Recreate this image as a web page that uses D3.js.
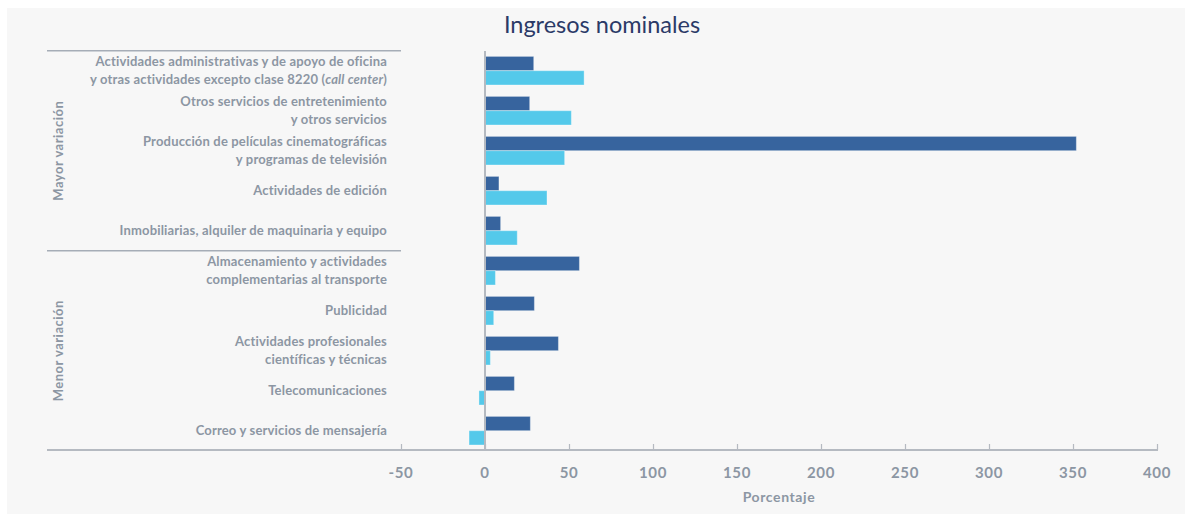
<!DOCTYPE html>
<html>
<head>
<meta charset="utf-8">
<script src="https://cdn.jsdelivr.net/npm/d3@7"></script>
<style>
  html, body { margin: 0; padding: 0; background: #ffffff; }
  svg { display: block; }
  text { font-family: Lato, "Open Sans", sans-serif; }
</style>
</head>
<body>
<svg id="chart" width="1185" height="514"></svg>
<script>
// ---- data ----
const categories = [
  ["Actividades administrativas y de apoyo de oficina", "y otras actividades excepto clase 8220 (|call center|)"],
  ["Otros servicios de entretenimiento", "y otros servicios"],
  ["Producción de películas cinematográficas", "y programas de televisión"],
  ["Actividades de edición"],
  ["Inmobiliarias, alquiler de maquinaria y equipo"],
  ["Almacenamiento y actividades", "complementarias al transporte"],
  ["Publicidad"],
  ["Actividades profesionales", "científicas y técnicas"],
  ["Telecomunicaciones"],
  ["Correo y servicios de mensajería"]
];
const seriesDark  = [29, 26.6, 352, 8.3, 9.3, 56.2, 29.4, 43.7, 17.5, 27];
const seriesLight = [59, 51.4, 47.4, 36.9, 19.2, 6.2, 5.2, 3.2, -3.6, -9.5];
const groups = [
  { name: "Mayor variación", from: 0, to: 4 },
  { name: "Menor variación", from: 5, to: 9 }
];
const xTicks = [-50, 0, 50, 100, 150, 200, 250, 300, 350, 400];
const title = "Ingresos nominales";
const xTitle = "Porcentaje";

// ---- layout ----
const svg = d3.select("#chart");
const W = 1185, H = 514;
svg.append("rect").attr("x", 7).attr("y", 8).attr("width", W - 7).attr("height", H - 8).attr("fill", "#f7f7f7");

const x = d3.scaleLinear().domain([-50, 400]).range([401, 1157]);
const y = d3.scaleBand().domain(d3.range(categories.length)).range([50.7, 450.7]).paddingInner(0.285).paddingOuter(0.1425);
const grey = "#8c96a3";
const lineGrey = "#b5bac1";

// title
svg.append("text").attr("x", 602).attr("y", 33).attr("text-anchor", "middle")
  .attr("font-size", 23.5).attr("fill", "#2b3a67").attr("font-weight", 400).text(title);

// group separators
const sepY = [y.range()[0], (y(4) + y.bandwidth() + y(5)) / 2];
svg.selectAll("line.sep").data(sepY).join("line")
  .attr("x1", 47).attr("x2", x(-50)).attr("y1", d => d).attr("y2", d => d)
  .attr("stroke", "#a6adb7").attr("stroke-width", 1.5);

// group labels
groups.forEach(g => {
  const cy = (y(g.from) + y(g.to) + y.bandwidth()) / 2;
  svg.append("text").attr("transform", `translate(63,${cy}) rotate(-90)`)
    .attr("text-anchor", "middle").attr("font-size", 13).attr("font-weight", 700)
    .attr("letter-spacing", 0.5).attr("fill", grey).text(g.name);
});

// category labels
const bh = y.bandwidth() / 2;
categories.forEach((lines, i) => {
  const cy = y(i) + bh;
  const t = svg.append("text").attr("text-anchor", "end").attr("font-size", 13)
    .attr("font-weight", 700).attr("letter-spacing", 0.17).attr("fill", grey);
  const n = lines.length;
  lines.forEach((ln, j) => {
    const yy = cy + (j - (n - 1) / 2) * 17.5 + 4.5;
    const parts = ln.split("|");
    t.append("tspan").attr("x", 387).attr("y", yy).text(parts[0]);
    for (let k = 1; k < parts.length; k++) {
      t.append("tspan").attr("font-style", k % 2 === 1 ? "italic" : "normal").text(parts[k]);
    }
  });
});

// bars
const bars = svg.append("g");
bars.selectAll("rect.dark").data(seriesDark).join("rect")
  .attr("x", d => x(Math.min(0, d))).attr("width", d => Math.abs(x(d) - x(0)))
  .attr("y", (d, i) => y(i)).attr("height", bh)
  .attr("fill", "#37649e").attr("stroke", "rgba(255,255,255,0.35)").attr("stroke-width", 1);
bars.selectAll("rect.light").data(seriesLight).join("rect")
  .attr("x", d => x(Math.min(0, d))).attr("width", d => Math.abs(x(d) - x(0)))
  .attr("y", (d, i) => y(i) + bh).attr("height", bh)
  .attr("fill", "#54c9ea").attr("stroke", "rgba(255,255,255,0.35)").attr("stroke-width", 1);

// zero line
svg.append("line").attr("x1", x(0)).attr("x2", x(0)).attr("y1", 51).attr("y2", 450)
  .attr("stroke", lineGrey).attr("stroke-width", 2);

// x axis
const axisY = 450;
svg.append("line").attr("x1", 47).attr("x2", 1158).attr("y1", axisY).attr("y2", axisY)
  .attr("stroke", lineGrey).attr("stroke-width", 2);
const ax = svg.append("g").attr("transform", `translate(0,${axisY})`)
  .call(d3.axisTop(x).tickValues(xTicks).tickSize(6).tickFormat(""));
ax.select(".domain").remove();
ax.selectAll(".tick line").attr("stroke", lineGrey).attr("stroke-width", 1.2);
svg.selectAll("text.tl").data(xTicks).join("text").attr("class", "tl")
  .attr("x", d => x(d)).attr("y", 477.5).attr("text-anchor", "middle")
  .attr("font-size", 15).attr("font-weight", 700).attr("letter-spacing", 0.6).attr("fill", grey).text(d => d);
svg.append("text").attr("x", x(175)).attr("y", 502).attr("text-anchor", "middle")
  .attr("font-size", 14).attr("font-weight", 700).attr("letter-spacing", 0.6).attr("fill", grey).text(xTitle);
</script>
</body>
</html>
